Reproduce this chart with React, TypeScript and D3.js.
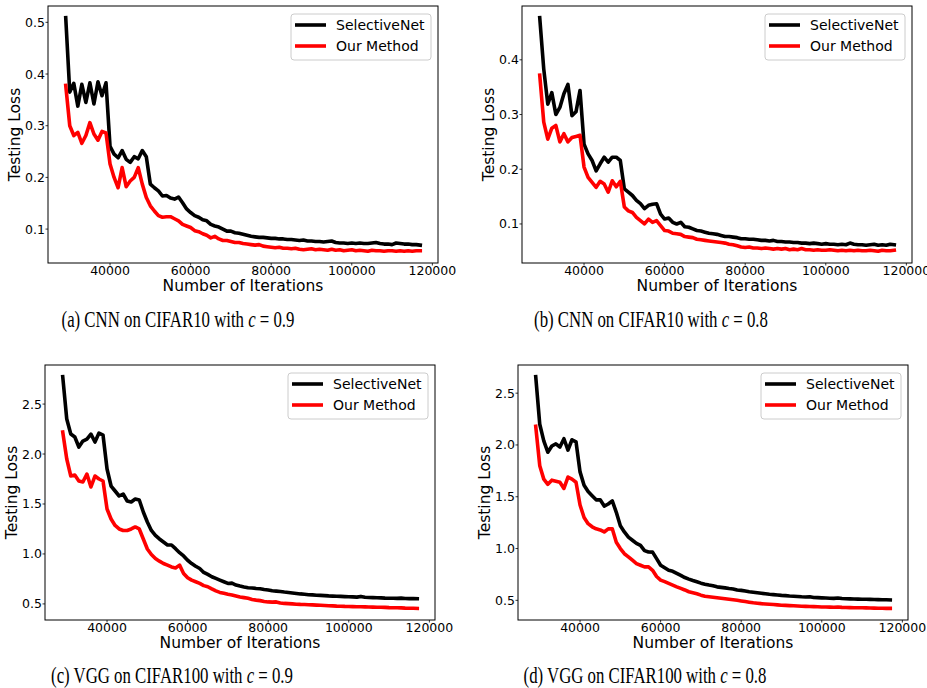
import React from 'react';
import * as d3 from 'd3';

const iterations = [
  29000, 30000, 31000, 32000, 33000, 34000, 35000, 36000, 37000, 38000, 39000,
  40000, 41000, 42000, 43000, 44000, 45000, 46000, 47000, 48000, 49000,
  50000, 51000, 52000, 53000, 54000, 55000, 56000, 57000, 58000, 59000,
  60000, 61000, 62000, 63000, 64000, 65000, 66000, 67000, 68000, 69000,
  70000, 71000, 72000, 73000, 74000, 75000, 76000, 77000, 78000, 79000,
  80000, 81000, 82000, 83000, 84000, 85000, 86000, 87000, 88000, 89000,
  90000, 91000, 92000, 93000, 94000, 95000, 96000, 97000, 98000, 99000,
  100000, 101000, 102000, 103000, 104000, 105000, 106000, 107000, 108000, 109000,
  110000, 111000, 112000, 113000, 114000, 115000, 116000, 117000,
];

// (a) CNN on CIFAR10, c = 0.9
const cnn09Selective = [
  0.509, 0.365, 0.382, 0.338, 0.380, 0.345, 0.383, 0.342, 0.385, 0.358, 0.383,
  0.260, 0.245, 0.238, 0.252, 0.235, 0.229, 0.240, 0.236, 0.252, 0.240,
  0.187, 0.180, 0.174, 0.164, 0.165, 0.160, 0.158, 0.162, 0.151, 0.139,
  0.132, 0.126, 0.123, 0.118, 0.116, 0.109, 0.106, 0.104, 0.100, 0.096,
  0.096, 0.093, 0.092, 0.090, 0.088, 0.086,
  0.085, 0.084, 0.084, 0.083, 0.082, 0.082, 0.081, 0.081, 0.080, 0.080,
  0.079, 0.078, 0.079, 0.077, 0.077, 0.076, 0.076, 0.075, 0.076, 0.077,
  0.074, 0.073, 0.073, 0.072, 0.073, 0.072, 0.073, 0.072, 0.072, 0.073,
  0.074, 0.072, 0.071, 0.071, 0.070, 0.073, 0.072, 0.071, 0.071, 0.070,
  0.070, 0.069,
];
const cnn09Ours = [
  0.378, 0.300, 0.281, 0.287, 0.266, 0.281, 0.306, 0.284, 0.272, 0.289, 0.286,
  0.226, 0.200, 0.180, 0.219, 0.182, 0.193, 0.200, 0.219, 0.187, 0.161,
  0.145, 0.135, 0.126, 0.123, 0.124, 0.124, 0.120, 0.116, 0.109, 0.106,
  0.103, 0.097, 0.095, 0.091, 0.088, 0.083, 0.086, 0.081, 0.078, 0.078,
  0.076, 0.074, 0.074, 0.072, 0.071, 0.070,
  0.069, 0.070, 0.067, 0.066, 0.065, 0.064, 0.065, 0.063, 0.063, 0.062,
  0.063, 0.061, 0.060, 0.061, 0.062, 0.060, 0.061, 0.060, 0.059, 0.061,
  0.059, 0.060, 0.058, 0.059, 0.060, 0.058, 0.059, 0.058, 0.057, 0.059,
  0.058, 0.058, 0.057, 0.058, 0.058, 0.057, 0.058, 0.057, 0.058, 0.057,
  0.058, 0.058,
];

// (b) CNN on CIFAR10, c = 0.8
const cnn08Selective = [
  0.477, 0.383, 0.319, 0.340, 0.300, 0.313, 0.338, 0.355, 0.298, 0.305, 0.344,
  0.246, 0.228, 0.216, 0.197, 0.210, 0.222, 0.213, 0.222, 0.222, 0.216,
  0.164, 0.158, 0.152, 0.143, 0.137, 0.128, 0.134, 0.136, 0.137, 0.118,
  0.109, 0.111, 0.103, 0.100, 0.103, 0.095, 0.094, 0.091, 0.088, 0.087,
  0.085, 0.083, 0.082, 0.081, 0.079, 0.077,
  0.077, 0.076, 0.075, 0.073, 0.073, 0.072, 0.072, 0.071, 0.070, 0.070,
  0.069, 0.070, 0.068, 0.068, 0.067, 0.067, 0.066, 0.066, 0.065, 0.065,
  0.064, 0.065, 0.064, 0.063, 0.064, 0.063, 0.063, 0.062, 0.063, 0.062,
  0.065, 0.063, 0.062, 0.062, 0.061, 0.062, 0.063, 0.061, 0.062, 0.061,
  0.063, 0.062,
];
const cnn08Ours = [
  0.372, 0.286, 0.255, 0.275, 0.280, 0.250, 0.265, 0.250, 0.258, 0.260, 0.262,
  0.204, 0.185, 0.176, 0.167, 0.178, 0.173, 0.158, 0.179, 0.168, 0.178,
  0.131, 0.124, 0.121, 0.112, 0.106, 0.100, 0.109, 0.103, 0.106, 0.097,
  0.088, 0.087, 0.083, 0.082, 0.081, 0.077, 0.076, 0.075, 0.072, 0.071,
  0.070, 0.069, 0.068, 0.067, 0.066, 0.065,
  0.063, 0.062, 0.060, 0.058, 0.057, 0.058, 0.056, 0.056, 0.055, 0.056,
  0.055, 0.054, 0.055, 0.054, 0.055, 0.053, 0.054, 0.053, 0.055, 0.053,
  0.053, 0.052, 0.053, 0.052, 0.052, 0.053, 0.052, 0.051, 0.052, 0.051,
  0.052, 0.051, 0.052, 0.051, 0.051, 0.052, 0.051, 0.050, 0.052, 0.051,
  0.051, 0.052,
];

// (c) VGG on CIFAR100, c = 0.9
const vgg09Selective = [
  2.775, 2.35, 2.20, 2.17, 2.07, 2.13, 2.15, 2.20, 2.12, 2.21, 2.19,
  1.85, 1.68, 1.63, 1.58, 1.60, 1.53, 1.52, 1.55, 1.54, 1.42,
  1.32, 1.235, 1.185, 1.15, 1.12, 1.09, 1.09, 1.053, 1.013, 0.98,
  0.937, 0.904, 0.877, 0.854, 0.815, 0.795, 0.772, 0.755, 0.738, 0.722,
  0.705, 0.708, 0.689, 0.679, 0.670, 0.662,
  0.66, 0.655, 0.652, 0.645, 0.64, 0.632, 0.628, 0.624, 0.619, 0.615,
  0.61, 0.605, 0.60, 0.597, 0.592, 0.59, 0.587, 0.585, 0.583, 0.58,
  0.578, 0.576, 0.575, 0.573, 0.571, 0.57, 0.568, 0.575, 0.566, 0.564,
  0.563, 0.562, 0.56, 0.558, 0.557, 0.556, 0.555, 0.558, 0.554, 0.553,
  0.553, 0.552,
];
const vgg09Ours = [
  2.22, 1.95, 1.78, 1.79, 1.73, 1.72, 1.80, 1.67, 1.78, 1.75, 1.73,
  1.45, 1.35, 1.285, 1.25, 1.235, 1.235, 1.25, 1.27, 1.25, 1.15,
  1.05, 0.994, 0.954, 0.928, 0.904, 0.888, 0.87, 0.86, 0.888, 0.805,
  0.762, 0.738, 0.722, 0.705, 0.683, 0.672, 0.65, 0.63, 0.615, 0.606,
  0.596, 0.59, 0.58, 0.57, 0.563, 0.556,
  0.545, 0.538, 0.533, 0.525, 0.52, 0.518, 0.52, 0.51, 0.505, 0.503,
  0.50, 0.497, 0.495, 0.494, 0.492, 0.49, 0.488, 0.486, 0.484, 0.482,
  0.48, 0.478, 0.477, 0.475, 0.474, 0.473, 0.472, 0.471, 0.47, 0.469,
  0.468, 0.467, 0.466, 0.465, 0.463, 0.462, 0.461, 0.46, 0.458, 0.457,
  0.456, 0.455,
];

// (d) VGG on CIFAR100, c = 0.8
const vgg08Selective = [
  2.66, 2.20, 2.04, 1.93, 1.99, 2.01, 1.98, 2.06, 1.95, 2.05, 2.03,
  1.74, 1.61, 1.55, 1.51, 1.47, 1.47, 1.41, 1.43, 1.46, 1.35,
  1.22, 1.16, 1.11, 1.08, 1.05, 1.03, 0.98, 0.967, 0.965, 0.903,
  0.839, 0.814, 0.79, 0.78, 0.76, 0.74, 0.72, 0.705, 0.692, 0.68,
  0.666, 0.656, 0.647, 0.64, 0.63, 0.625,
  0.62, 0.614, 0.61, 0.60, 0.596, 0.59, 0.583, 0.578, 0.573, 0.568,
  0.563, 0.558, 0.555, 0.552, 0.548, 0.545, 0.542, 0.54, 0.537, 0.534,
  0.532, 0.535, 0.528, 0.526, 0.524, 0.522, 0.52, 0.519, 0.522, 0.517,
  0.515, 0.514, 0.513, 0.512, 0.511, 0.51, 0.509, 0.508, 0.507, 0.506,
  0.505, 0.504,
];
const vgg08Ours = [
  2.18, 1.80, 1.67, 1.62, 1.66, 1.65, 1.64, 1.58, 1.69, 1.67, 1.64,
  1.42, 1.30, 1.24, 1.21, 1.19, 1.18, 1.16, 1.19, 1.19, 1.06,
  1.00, 0.95, 0.92, 0.887, 0.855, 0.839, 0.823, 0.823, 0.79, 0.73,
  0.695, 0.68, 0.663, 0.647, 0.63, 0.615, 0.60, 0.583, 0.573, 0.563,
  0.55, 0.54, 0.535, 0.53, 0.525, 0.52,
  0.515, 0.51, 0.505, 0.50, 0.494, 0.488, 0.482, 0.476, 0.472, 0.468,
  0.465, 0.462, 0.459, 0.456, 0.453, 0.451, 0.449, 0.447, 0.445, 0.443,
  0.442, 0.44, 0.439, 0.438, 0.436, 0.435, 0.434, 0.433, 0.435, 0.432,
  0.431, 0.43, 0.429, 0.429, 0.428, 0.427, 0.426, 0.425, 0.424, 0.423,
  0.422, 0.422,
];

const xTicks = [40000, 60000, 80000, 100000, 120000];
const yTicksCnn09 = [0.1, 0.2, 0.3, 0.4, 0.5];
const yTicksCnn08 = [0.1, 0.2, 0.3, 0.4];
const yTicksVgg = [0.5, 1.0, 1.5, 2.0, 2.5];
const seriesNames = ['SelectiveNet', 'Our Method'];
const seriesColors = ['#000000', '#ff0000'];
const captionLabels = ['(a)', '(b)', '(c)', '(d)'];
const captionModels = ['CNN on CIFAR10', 'CNN on CIFAR10', 'VGG on CIFAR100', 'VGG on CIFAR100'];
const captionCoverage = ['0.9', '0.8', '0.9', '0.8'];

const FONT = 'DejaVu Sans, sans-serif';

type Box = { l: number; r: number; t: number; b: number };

const panels = [
  { box: { l: 48, r: 438, t: 6, b: 263 }, series: [cnn09Selective, cnn09Ours], yTicks: yTicksCnn09, capX: 178, capY: 327 },
  { box: { l: 522, r: 912, t: 6, b: 263 }, series: [cnn08Selective, cnn08Ours], yTicks: yTicksCnn08, capX: 651, capY: 327 },
  { box: { l: 45, r: 435, t: 365, b: 620 }, series: [vgg09Selective, vgg09Ours], yTicks: yTicksVgg, capX: 172, capY: 683 },
  { box: { l: 518, r: 908, t: 365, b: 620 }, series: [vgg08Selective, vgg08Ours], yTicks: yTicksVgg, capX: 645, capY: 683 },
];

function Panel({ box, series, yTicks, idx, capX, capY }: { box: Box; series: number[][]; yTicks: number[]; idx: number; capX: number; capY: number }) {
  const [x0, x1] = d3.extent(iterations) as [number, number];
  const xPad = (x1 - x0) * 0.05;
  const x = d3.scaleLinear().domain([x0 - xPad, x1 + xPad]).range([box.l, box.r]);
  const all = series.flat();
  const [y0, y1] = d3.extent(all) as [number, number];
  const yPad = (y1 - y0) * 0.05;
  const y = d3.scaleLinear().domain([y0 - yPad, y1 + yPad]).range([box.b, box.t]);
  const line = d3.line<number>().x((_, i) => x(iterations[i])).y((d) => y(d));
  const fmt = d3.format('.1f');
  const legL = box.r - 147;
  const legT = box.t + 8;
  const clipId = `clip-${idx}`;
  return (
    <g>
      <defs>
        <clipPath id={clipId}>
          <rect x={box.l} y={box.t} width={box.r - box.l} height={box.b - box.t} />
        </clipPath>
      </defs>
      <g clipPath={`url(#${clipId})`}>
        {series.map((s, i) => (
          <path key={i} d={line(s) || ''} fill="none" stroke={seriesColors[i]} strokeWidth={3.6} strokeLinejoin="round" strokeLinecap="square" />
        ))}
      </g>
      <rect x={box.l} y={box.t} width={box.r - box.l} height={box.b - box.t} fill="none" stroke="#000" strokeWidth={1} />
      {xTicks.map((t) => (
        <g key={t}>
          <line x1={x(t)} x2={x(t)} y1={box.b} y2={box.b + 2.5} stroke="#000" strokeWidth={0.8} />
          <text x={x(t)} y={box.b + 12} textAnchor="middle" fontFamily={FONT} fontSize={12.5} fill="#000">{t}</text>
        </g>
      ))}
      {yTicks.map((t) => (
        <g key={t}>
          <line x1={box.l - 2.5} x2={box.l} y1={y(t)} y2={y(t)} stroke="#000" strokeWidth={0.8} />
          <text x={box.l - 3} y={y(t) + 4.5} textAnchor="end" fontFamily={FONT} fontSize={12.5} fill="#000">{fmt(t)}</text>
        </g>
      ))}
      <text x={(box.l + box.r) / 2} y={box.b + 28} textAnchor="middle" fontFamily={FONT} fontSize={15.5} fill="#000">Number of Iterations</text>
      <text transform={`translate(${box.l - 28},${(box.t + box.b) / 2}) rotate(-90)`} textAnchor="middle" fontFamily={FONT} fontSize={15.5} fill="#000">Testing Loss</text>
      <rect x={legL} y={legT} width={140} height={46} rx={3} fill="#fff" fillOpacity={0.8} stroke="#cccccc" strokeWidth={1} />
      {seriesNames.map((n, i) => (
        <g key={n}>
          <line x1={legL + 4} x2={legL + 35} y1={legT + 11 + i * 21} y2={legT + 11 + i * 21} stroke={seriesColors[i]} strokeWidth={3.6} />
          <text x={legL + 45} y={legT + 11 + i * 21 + 5} fontFamily={FONT} fontSize={14} fill="#000">{n}</text>
        </g>
      ))}
      <g transform={`translate(${capX},${capY}) scale(0.73,1)`}>
        <text x={0} y={0} textAnchor="middle" fontFamily="Liberation Serif, Times New Roman, serif" fontSize={23} fill="#000">
          {`${captionLabels[idx]} ${captionModels[idx]} with `}
          <tspan fontStyle="italic">c</tspan>
          {` = ${captionCoverage[idx]}`}
        </text>
      </g>
    </g>
  );
}

export default function App() {
  return (
    <svg width={927} height={688} style={{ position: 'absolute', left: 0, top: 0, background: '#fff' }}>
      <rect x={0} y={0} width={927} height={688} fill="#fff" />
      {panels.map((p, i) => (
        <Panel key={i} idx={i} box={p.box} series={p.series} yTicks={p.yTicks} capX={p.capX} capY={p.capY} />
      ))}
    </svg>
  );
}
